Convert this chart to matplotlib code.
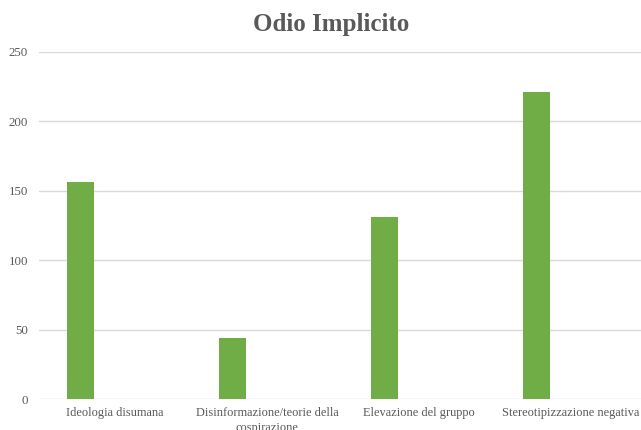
import matplotlib.pyplot as plt
import numpy as np

categorie = ["Ideologia disumana", "Disinformazione/teorie della\ncospirazione",
             "Elevazione del gruppo", "Stereotipizzazione negativa"]
valori = [156, 44, 131, 221]
y_ticks = [0, 50, 100, 150, 200, 250]

plt.rcParams['font.family'] = ['Liberation Serif', 'DejaVu Serif']
testo = '#595959'

fig = plt.figure(figsize=(6.41, 4.30), dpi=100)
ax = fig.add_axes([39 / 641, 31 / 430, 608 / 641, 347.3 / 430])

x = np.arange(len(categorie))
# excel-style cluster: the green series sits in the left half of each slot
ax.bar(x - 0.225, valori, width=0.178, color='#70AD47', zorder=3)

ax.set_xlim(-0.5, 3.5)
ax.set_ylim(0, 250)
ax.set_yticks(y_ticks)
ax.set_xticks(x)
ax.set_xticklabels(categorie, fontsize=8.9, color=testo, linespacing=1.3)
ax.tick_params(axis='y', length=0, pad=8, labelsize=9.3, labelcolor=testo)
ax.tick_params(axis='x', length=0, pad=6)
ax.grid(axis='y', color='#D9D9D9', linewidth=1, zorder=0)
for s in ax.spines.values():
    s.set_visible(False)

fig.text(331 / 641, 1 - 25 / 430, "Odio Implicito", ha='center', va='center',
         fontsize=18, fontweight='bold', color=testo)

fig.savefig("out.png", dpi=100)
